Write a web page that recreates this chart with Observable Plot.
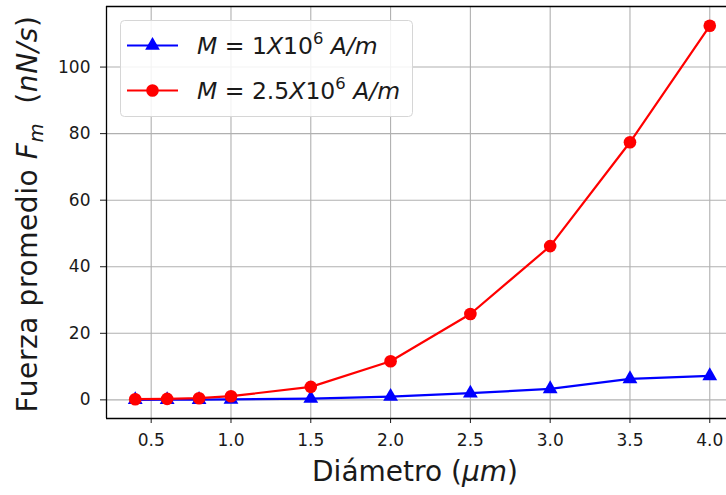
<!DOCTYPE html>
<html>
<head>
<meta charset="utf-8">
<script src="https://cdn.jsdelivr.net/npm/d3@7"></script>
<script src="https://cdn.jsdelivr.net/npm/@observablehq/plot@0.6"></script>
<style>
  html, body { margin: 0; padding: 0; background: #fff; }
  #chart svg { display: block; }
</style>
</head>
<body>
<div id="chart"></div>
<script>
// ---- data ----
const diametro = [0.4, 0.6, 0.8, 1.0, 1.5, 2.0, 2.5, 3.0, 3.5, 4.0];
const fuerzaM1 = [0.02, 0.04, 0.07, 0.12, 0.4, 1.0, 2.0, 3.3, 6.3, 7.2];
const fuerzaM25 = [0.2, 0.3, 0.5, 1.1, 3.9, 11.6, 25.8, 46.2, 77.4, 112.4];
const xTicks = [0.5, 1.0, 1.5, 2.0, 2.5, 3.0, 3.5, 4.0];
const yTicks = [0, 20, 40, 60, 80, 100];
const seriesNames = ["M1", "M25"];

const W = 726, H = 495;
const mL = 106, mT = 6, mB = 77, mR = -12;
const xDomain = [0.22, 4.18];
const yDomain = [-5.6, 118.2];

const rowsM1 = diametro.map((d, i) => ({d, f: fuerzaM1[i]}));
const rowsM25 = diametro.map((d, i) => ({d, f: fuerzaM25[i]}));

const font = "DejaVu Sans, sans-serif";
const ink = "#1a1a1a";
const plot = Plot.plot({
  width: W, height: H,
  marginLeft: mL, marginTop: mT, marginBottom: mB, marginRight: mR,
  style: {fontFamily: font, background: "white", overflow: "hidden"},
  x: {domain: xDomain},
  y: {domain: yDomain},
  marks: [
    Plot.gridX(xTicks, {stroke: "#b0b0b0", strokeOpacity: 1, strokeWidth: 1.1}),
    Plot.gridY(yTicks, {stroke: "#b0b0b0", strokeOpacity: 1, strokeWidth: 1.1}),
    Plot.axisX(xTicks, {tickFormat: d3.format(".1f"), tickSize: 5, tickPadding: 10, fontSize: 17, fill: ink, stroke: ink, label: null}),
    Plot.axisY(yTicks, {tickFormat: d3.format("d"), tickSize: 6, tickPadding: 10, fontSize: 17, fill: ink, stroke: ink, label: null}),
    Plot.ruleX([xDomain[0]], {stroke: "black", strokeWidth: 1.3}),
    Plot.ruleY([yDomain[0], yDomain[1]], {stroke: "black", strokeWidth: 1.3}),
    Plot.line(rowsM1, {x: "d", y: "f", stroke: "#0000ff", strokeWidth: 2.2}),
    Plot.dot(rowsM1, {x: "d", y: "f", symbol: "triangle", fill: "#0000ff", r: 5.5}),
    Plot.line(rowsM25, {x: "d", y: "f", stroke: "#ff0000", strokeWidth: 2.2}),
    Plot.dot(rowsM25, {x: "d", y: "f", symbol: "circle", fill: "#ff0000", r: 6.3})
  ]
});
document.getElementById("chart").appendChild(plot);

// ---- labels and legend with mixed italic text ----
const svg = d3.select(plot);
function richText(g, parts) {
  parts.forEach(p => {
    const t = g.append("tspan").text(p.t);
    if (p.i) t.attr("font-style", "italic");
    if (p.sub) t.attr("font-size", "0.7em").attr("dy", "0.3em");
    if (p.sup) t.attr("font-size", "0.7em").attr("dy", "-0.55em");
    if (p.back) t.attr("dy", p.back);
  });
}

// x label
const xl = svg.append("text")
  .attr("x", 415).attr("y", 481)
  .attr("text-anchor", "middle")
  .attr("font-family", font).attr("font-size", 28).attr("fill", ink);
richText(xl, [{t: "Diámetro ("}, {t: "μm", i: true}, {t: ")"}]);

// y label
const yl = svg.append("text")
  .attr("transform", "translate(37,214) rotate(-90)")
  .attr("text-anchor", "middle")
  .attr("letter-spacing", "0.6px")
  .attr("font-family", font).attr("font-size", 28).attr("fill", ink);
richText(yl, [{t: "Fuerza promedio "}, {t: "F", i: true}, {t: "m", i: true, sub: true}, {t: "  (", back: "-0.21em"}, {t: "nN/s", i: true}, {t: ")"}]);

// legend
const lg = svg.append("g");
lg.append("rect").attr("x", 120.5).attr("y", 20.5).attr("width", 292).attr("height", 96)
  .attr("rx", 4).attr("fill", "white").attr("fill-opacity", 0.85).attr("stroke", "#d6d6d6");
const entries = [
  {name: seriesNames[0], color: "#0000ff", sym: d3.symbolTriangle, size: Math.PI * 30, y: 45.5, parts: [{t: "M", i: true}, {t: " = 1"}, {t: "X", i: true}, {t: "10"}, {t: "6", sup: true}, {t: " A/m", i: true, back: "0.385em"}]},
  {name: seriesNames[1], color: "#ff0000", sym: d3.symbolCircle, size: Math.PI * 6.3 * 6.3, y: 90.5, parts: [{t: "M", i: true}, {t: " = 2.5"}, {t: "X", i: true}, {t: "10"}, {t: "6", sup: true}, {t: " A/m", i: true, back: "0.385em"}]}
];
entries.forEach(e => {
  lg.append("line").attr("x1", 127).attr("x2", 178).attr("y1", e.y).attr("y2", e.y)
    .attr("stroke", e.color).attr("stroke-width", 2.2);
  lg.append("path").attr("d", d3.symbol(e.sym, e.size)()).attr("transform", `translate(152.5,${e.y})`)
    .attr("fill", e.color);
  const t = lg.append("text").attr("x", 197).attr("y", e.y + 8)
    .attr("text-anchor", "start")
    .attr("font-family", font).attr("font-size", 23.5).attr("fill", ink);
  richText(t, e.parts);
});
</script>
</body>
</html>
